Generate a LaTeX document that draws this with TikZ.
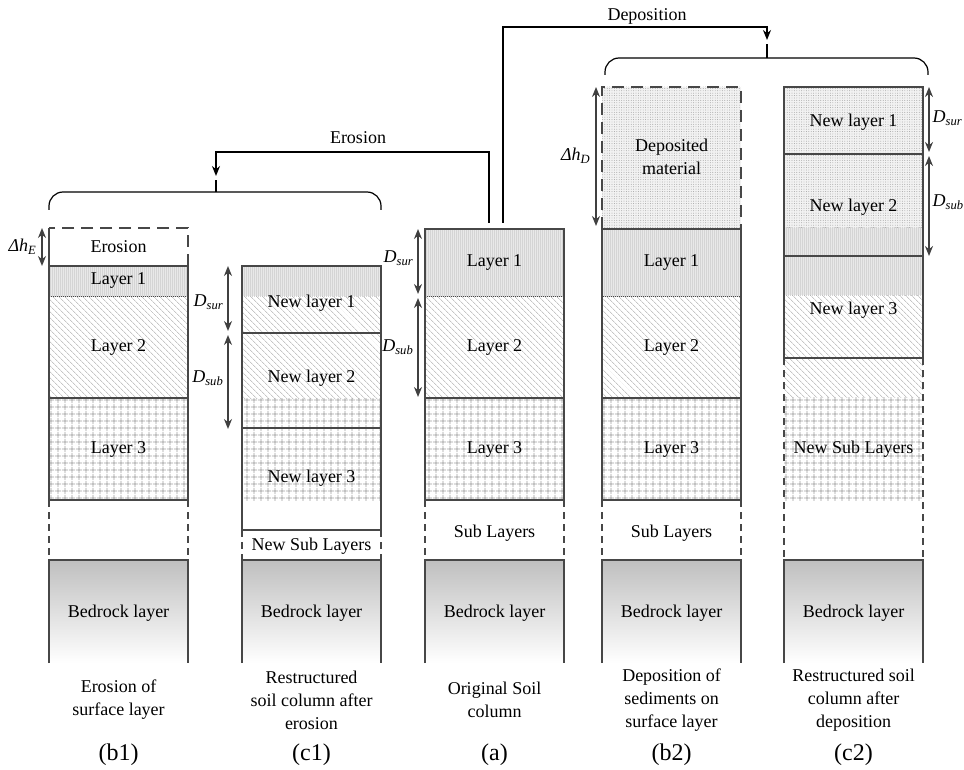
\documentclass[tikz,border=0pt]{standalone}
\usepackage{fontspec}
\setmainfont{Liberation Serif}
\usetikzlibrary{patterns.meta,arrows.meta}

\tikzset{
  edge/.style={draw=black!72, line width=1.5pt},
  gap/.style={draw=black!72, line width=1.5pt, dash pattern=on 7pt off 5pt},
  longgap/.style={draw=black!72, line width=1.7pt, dash pattern=on 12pt off 7pt},
  surf/.style={preaction={fill=black!9}, pattern={Lines[angle=90,distance=2pt,line width=0.5pt]}, pattern color=black!17},
  hatch/.style={pattern={Lines[angle=-45,distance=4pt,line width=0.6pt]}, pattern color=black!35},
  mesh/.style={pattern={Hatch[distance=6.5pt,line width=0.8pt]}, pattern color=black!38},
  sand/.style={preaction={fill=black!5}, pattern={Dots[distance=2.4pt,radius=0.45pt]}, pattern color=black!40},
  rock/.style={top color=black!25, bottom color=white, draw=none},
  dim/.style={{Stealth[length=10pt,width=8pt]}-{Stealth[length=10pt,width=8pt]}, draw=black!75, line width=2pt},
  flow/.style={-{Stealth[length=10pt,width=8pt]}, line width=1.6pt},
  brace/.style={line width=1.2pt, rounded corners=14pt},
  txt/.style={font=\fontsize{18}{23}\selectfont, align=center},
  tagtxt/.style={font=\fontsize{24}{28}\selectfont},
  lbl/.style={font=\fontsize{18}{23}\selectfont, inner sep=0.5pt}
}

\begin{document}
\begin{tikzpicture}[x=1pt,y=-1pt]
  \useasboundingbox (0,0) rectangle (964,770);

  % bedrock and captions for every column
  \foreach \l/\n in {49/b1,242/c1,425/a,602/b2,784/c2}{
    \shade[rock] (\l,560) rectangle ++(139,103);
    \draw[edge] (\l,663) -- (\l,560) -- ++(139,0) -- ++(0,103);
    \node[txt] (bed\n) at (\l+69.5,613) {Bedrock layer};
    \node[tagtxt] (tag\n) at (\l+69.5,755) {(\n)};
  }

  % original three layers in b1, a, b2
  \foreach \l/\n in {49/b1,425/a,602/b2}{
    \path[hatch] (\l,296) rectangle ++(139,102);
    \path[mesh] (\l,398) rectangle ++(139,102);
    \draw[edge] (\l,296) -- ++(139,0) (\l,398) -- ++(139,0) (\l,500) -- ++(139,0);
    \node[txt] (\n two) at (\l+69.5,347) {Layer 2};
    \node[txt] (\n three) at (\l+69.5,449) {Layer 3};
    \draw[gap] (\l,500) -- ++(0,60) (\l+139,500) -- ++(0,60);
  }

  % (b1) erosion of surface layer
  \path[surf] (49,266) rectangle (188,296);
  \draw[edge] (49,266) rectangle (188,500);
  \draw[longgap] (188,266) -- (188,228) -- (49,228);
  \draw[edge] (49,228) -- (49,266);
  \node[txt] (bero) at (118.5,247) {Erosion};
  \node[txt] (bone) at (118.5,281) {Layer 1};
  \coordinate (eT) at (42,228);
  \coordinate (eB) at (42,266);
  \draw[dim] (eT) -- (eB);
  \node[lbl, anchor=east] (dhE) at (37,247) {\textit{Δh}\textsubscript{\textit{E}}};
  \node[txt] (capb1) at (118.5,700) {Erosion of\\surface layer};

  % (c1) restructured after erosion
  \path[surf] (242,266) rectangle (381,296);
  \path[hatch] (242,296) rectangle (381,398);
  \path[mesh] (242,398) rectangle (381,500);
  \draw[edge] (242,266) rectangle (381,530);
  \draw[edge] (242,333) -- (381,333) (242,428) -- (381,428);
  \draw[gap] (242,530) -- (242,560) (381,530) -- (381,560);
  \node[txt] (cone) at (311.5,303) {New layer 1};
  \node[txt] (ctwo) at (311.5,378) {New layer 2};
  \node[txt] (cthree) at (311.5,478) {New layer 3};
  \node[txt] (csub) at (311.5,546) {New Sub Layers};
  \coordinate (c1a) at (228,266);
  \coordinate (c1b) at (228,331);
  \coordinate (c1c) at (228,335);
  \coordinate (c1d) at (228,429);
  \draw[dim] (c1a) -- (c1b);
  \draw[dim] (c1c) -- (c1d);
  \node[lbl, anchor=east] (c1sur) at (224,302) {\textit{D}\textsubscript{\textit{sur}}};
  \node[lbl, anchor=east] (c1sub) at (224,378) {\textit{D}\textsubscript{\textit{sub}}};
  \node[txt] (capc1) at (311.5,700) {Restructured\\soil column after\\erosion};

  % (a) original soil column
  \path[surf] (425,229) rectangle (564,296);
  \draw[edge] (425,229) rectangle (564,500);
  \node[txt] (aone) at (494.5,263) {Layer 1};
  \node[txt] (asub) at (494.5,533) {Sub Layers};
  \coordinate (a1) at (418,229);
  \coordinate (a2) at (418,294);
  \coordinate (a3) at (418,298);
  \coordinate (a4) at (418,397);
  \draw[dim] (a1) -- (a2);
  \draw[dim] (a3) -- (a4);
  \node[lbl, anchor=east] (asur) at (414,258) {\textit{D}\textsubscript{\textit{sur}}};
  \node[lbl, anchor=east] (asubd) at (414,347) {\textit{D}\textsubscript{\textit{sub}}};
  \node[txt] (capa) at (494.5,700) {Original Soil\\column};

  % (b2) deposition on surface layer
  \path[sand] (602,87) rectangle (741,229);
  \path[surf] (602,229) rectangle (741,296);
  \draw[edge] (602,229) rectangle (741,500);
  \draw[longgap] (602,229) -- (602,87) -- (741,87) -- (741,229);
  \node[txt] (bdep) at (671.5,157) {Deposited\\material};
  \node[txt] (btwoone) at (671.5,263) {Layer 1};
  \node[txt] (bsub) at (671.5,533) {Sub Layers};
  \coordinate (dT) at (596,87);
  \coordinate (dB) at (596,226);
  \draw[dim] (dT) -- (dB);
  \node[lbl, anchor=east] (dhD) at (591,156) {\textit{Δh}\textsubscript{\textit{D}}};
  \node[txt] (capb2) at (671.5,700) {Deposition of\\sediments on\\surface layer};

  % (c2) restructured after deposition
  \path[sand] (784,87) rectangle (923,228);
  \path[surf] (784,228) rectangle (923,295);
  \path[hatch] (784,295) rectangle (923,397);
  \path[mesh] (784,397) rectangle (923,500);
  \draw[edge] (784,87) rectangle (923,358);
  \draw[edge] (784,154) -- (923,154) (784,256) -- (923,256);
  \draw[gap] (784,358) -- (784,560) (923,358) -- (923,560);
  \node[txt] (ctone) at (853.5,122) {New layer 1};
  \node[txt] (cttwo) at (853.5,207) {New layer 2};
  \node[txt] (ctthree) at (853.5,310) {New layer 3};
  \node[txt] (ctsub) at (853.5,449) {New Sub Layers};
  \coordinate (c2a) at (929,87);
  \coordinate (c2b) at (929,152);
  \coordinate (c2c) at (929,156);
  \coordinate (c2d) at (929,256);
  \draw[dim] (c2a) -- (c2b);
  \draw[dim] (c2c) -- (c2d);
  \node[lbl, anchor=west] (c2sur) at (932,118) {\textit{D}\textsubscript{\textit{sur}}};
  \node[lbl, anchor=west] (c2sub) at (932,202) {\textit{D}\textsubscript{\textit{sub}}};
  \node[txt] (capc2) at (853.5,700) {Restructured soil\\column after\\deposition};

  % braces and process arrows
  \draw[brace] (49,210) -- (49,192) -- (381,192) -- (381,210);
  \draw[brace] (605,75) -- (605,58) -- (928,58) -- (928,75);
  \coordinate (eroBrace) at (216,192);
  \coordinate (eroStub) at (216,180);
  \coordinate (depBrace) at (767,58);
  \coordinate (depStub) at (767,44);
  \draw[line width=1.2pt] (eroBrace) -- (eroStub);
  \draw[line width=1.2pt] (depBrace) -- (depStub);

  \coordinate (aEro) at (489,223);
  \coordinate (eroBend) at (489,152);
  \coordinate (eroTip) at (216,176);
  \draw[flow] (aEro) -- (eroBend) -| (eroTip);
  \node[txt] (erolbl) at (358,138) {Erosion};

  \coordinate (aDep) at (503,223);
  \coordinate (depBend) at (503,27);
  \coordinate (depTip) at (767,40);
  \draw[flow] (aDep) -- (depBend) -| (depTip);
  \node[txt] (deplbl) at (647,16) {Deposition};
\end{tikzpicture}
\end{document}
